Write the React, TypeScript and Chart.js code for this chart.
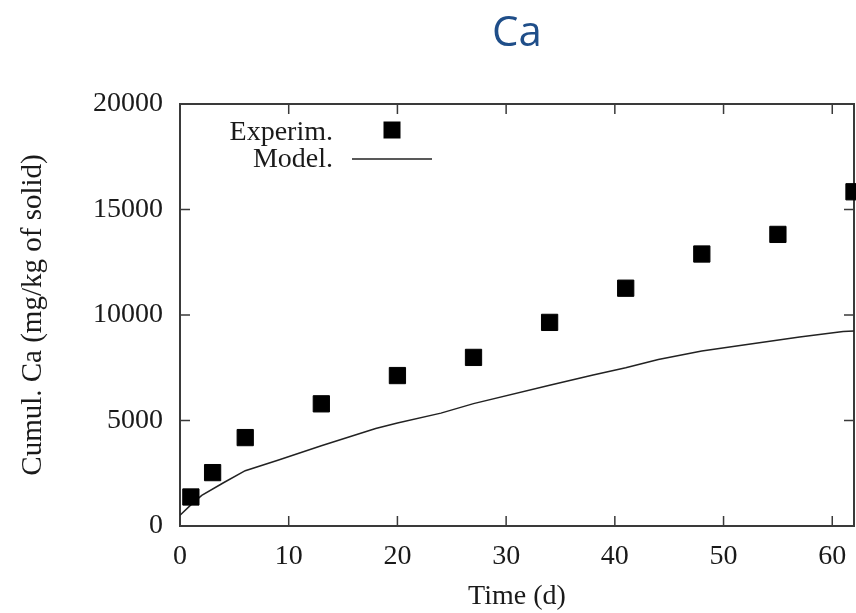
import React, { useEffect, useRef } from "react";
import { Chart, registerables } from "chart.js";

Chart.register(...registerables);

// ---- data ----
const expDays = [1, 3, 6, 13, 20, 27, 34, 41, 48, 55, 62];
const expValues = [1375, 2530, 4190, 5790, 7130, 7990, 9650, 11270, 12890, 13820, 15840];
const modelDays = [0, 1, 2, 4, 6, 9, 13, 18, 20, 24, 27, 34, 38, 41, 44, 48, 52, 57, 61, 62];
const modelValues = [510, 1000, 1450, 2050, 2620, 3120, 3800, 4620, 4880, 5350, 5800, 6670, 7160, 7500, 7890, 8290, 8590, 8960, 9220, 9240];
const xTickValues = [0, 10, 20, 30, 40, 50, 60];
const yTickValues = [0, 5000, 10000, 15000, 20000];
const titleText = "Ca";
const xTitle = "Time (d)";
const yTitle = "Cumul. Ca (mg/kg of solid)";
const legendLabels = ["Experim.", "Model."];

const SERIF = '"Liberation Serif", "Times New Roman", serif';
const TEXT = "#1a1a1a";
const FRAME = "#3a3a3a";

const framePlugin = {
  id: "frameTicks",
  beforeDatasetsDraw(chart: any) {
    const { ctx, chartArea: a, scales } = chart;
    const tl = 10;
    ctx.save();
    ctx.strokeStyle = FRAME;
    ctx.lineWidth = 1.5;
    ctx.beginPath();
    scales.x.ticks.forEach((t: any) => {
      const px = scales.x.getPixelForValue(t.value);
      ctx.moveTo(px, a.bottom);
      ctx.lineTo(px, a.bottom - tl);
      ctx.moveTo(px, a.top);
      ctx.lineTo(px, a.top + tl);
    });
    scales.y.ticks.forEach((t: any) => {
      const py = scales.y.getPixelForValue(t.value);
      ctx.moveTo(a.left, py);
      ctx.lineTo(a.left + tl, py);
      ctx.moveTo(a.right, py);
      ctx.lineTo(a.right - tl, py);
    });
    ctx.stroke();
    ctx.lineWidth = 2;
    ctx.strokeRect(a.left, a.top, a.right - a.left, a.bottom - a.top);
    ctx.restore();
  },
};

const legendPlugin = {
  id: "customLegend",
  afterDatasetsDraw(chart: any) {
    const { ctx, chartArea: a } = chart;
    ctx.save();
    ctx.font = `28px ${SERIF}`;
    ctx.fillStyle = TEXT;
    ctx.textAlign = "right";
    ctx.textBaseline = "alphabetic";
    const textRight = a.left + 153;
    ctx.fillText(legendLabels[0], textRight, a.top + 36);
    ctx.fillText(legendLabels[1], textRight, a.top + 63);
    // square marker
    const sq = 17;
    ctx.fillStyle = "#000";
    ctx.fillRect(a.left + 212 - sq / 2, a.top + 26 - sq / 2, sq, sq);
    // line marker
    ctx.strokeStyle = "#222";
    ctx.lineWidth = 1.5;
    ctx.beginPath();
    ctx.moveTo(a.left + 172, a.top + 55);
    ctx.lineTo(a.left + 252, a.top + 55);
    ctx.stroke();
    ctx.restore();
  },
};

export default function App() {
  const canvasRef = useRef<HTMLCanvasElement | null>(null);

  useEffect(() => {
    if (!canvasRef.current) return;
    const chart = new Chart(canvasRef.current, {
      type: "scatter",
      data: {
        datasets: [
          {
            label: legendLabels[0],
            data: expDays.map((d, i) => ({ x: d, y: expValues[i] })),
            pointStyle: "rect",
            pointRadius: 11.5,
            pointHoverRadius: 11.5,
            backgroundColor: "#000",
            borderColor: "#000",
            borderWidth: 1,
            clip: false,
            order: 0,
          },
          {
            label: legendLabels[1],
            data: modelDays.map((d, i) => ({ x: d, y: modelValues[i] })),
            showLine: true,
            pointRadius: 0,
            pointHoverRadius: 0,
            borderColor: "#222",
            borderWidth: 1.5,
            backgroundColor: "#222",
            tension: 0,
            order: 1,
          },
        ],
      },
      options: {
        responsive: false,
        animation: false,
        layout: { autoPadding: false, padding: { left: 0, right: 2, top: 0, bottom: 0 } },
        plugins: {
          legend: { display: false },
          tooltip: { enabled: false },
          title: {
            display: true,
            text: titleText,
            color: "#1f4e89",
            fullSize: false,
            font: { family: '"Open Sans", sans-serif', size: 42, weight: "normal", lineHeight: 1.2 },
            padding: { top: 9, bottom: 44.6 },
          },
        },
        scales: {
          x: {
            type: "linear",
            min: 0,
            max: 62,
            afterFit: (s: any) => {
              s.height = 87;
              s.paddingLeft = 0;
              s.paddingRight = 0;
            },
            afterBuildTicks: (s: any) => {
              s.ticks = xTickValues.map((v) => ({ value: v }));
            },
            ticks: {
              color: TEXT,
              font: { family: SERIF, size: 28 },
              padding: 14,
              maxRotation: 0,
              callback: (v: any) => String(v),
            },
            grid: { display: false, drawTicks: false },
            border: { display: false },
            title: {
              display: true,
              text: xTitle,
              color: TEXT,
              font: { family: SERIF, size: 28, lineHeight: 1.2 },
              padding: { top: -2, bottom: 0 },
            },
          },
          y: {
            type: "linear",
            min: 0,
            max: 20000,
            afterFit: (s: any) => {
              s.width = 180;
              s.paddingTop = 0;
              s.paddingBottom = 0;
            },
            afterBuildTicks: (s: any) => {
              s.ticks = yTickValues.map((v) => ({ value: v }));
            },
            ticks: {
              color: TEXT,
              font: { family: SERIF, size: 28 },
              padding: 17,
              callback: (v: any) => String(v),
            },
            grid: { display: false, drawTicks: false },
            border: { display: false },
            title: {
              display: true,
              text: yTitle,
              color: TEXT,
              font: { family: SERIF, size: 29, lineHeight: 1.2 },
              padding: { top: 16, bottom: 0 },
            },
          },
        },
      },
      plugins: [framePlugin, legendPlugin],
    } as any);
    return () => chart.destroy();
  }, []);

  return (
    <div style={{ position: "absolute", left: 0, top: 0, width: 856, height: 613, background: "#fff" }}>
      <canvas ref={canvasRef} width={856} height={613} style={{ display: "block" }} />
    </div>
  );
}
